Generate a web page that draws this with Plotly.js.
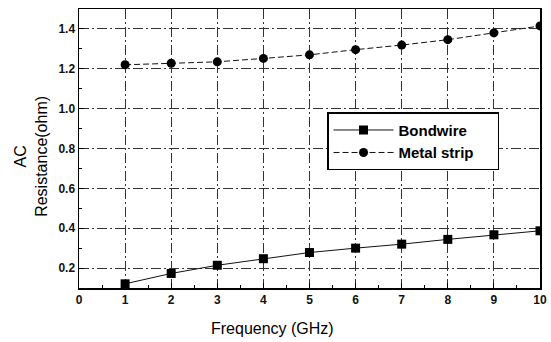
<!DOCTYPE html>
<html>
<head>
<meta charset="utf-8">
<script src="https://cdn.plot.ly/plotly-3.0.1.min.js"></script>
<style>html,body{margin:0;padding:0;background:#fff;}#chart{width:551px;height:342px;}</style>
</head>
<body>
<div id="chart"></div>
<script>
const freq = [1, 2, 3, 4, 5, 6, 7, 8, 9, 10];
const bondwire = [0.121, 0.173, 0.214, 0.247, 0.278, 0.300, 0.320, 0.344, 0.367, 0.387];
const metalStrip = [1.220, 1.228, 1.235, 1.252, 1.270, 1.296, 1.319, 1.346, 1.380, 1.415];
const xTicks = [0, 1, 2, 3, 4, 5, 6, 7, 8, 9, 10];
const yTicks = [0.2, 0.4, 0.6, 0.8, 1.0, 1.2, 1.4];

const font = 'Liberation Sans, Arial, sans-serif';
const traces = [
  {x: freq, y: bondwire, name: 'Bondwire&nbsp;&nbsp;&nbsp;&nbsp;&nbsp;&nbsp;', type: 'scatter', mode: 'lines+markers',
   line: {color: '#111', width: 1, dash: 'solid'},
   marker: {symbol: 'square', size: 9, color: '#000'}},
  {x: freq, y: metalStrip, name: 'Metal strip&nbsp;&nbsp;', type: 'scatter', mode: 'lines+markers',
   line: {color: '#111', width: 1, dash: '6px,3px'},
   marker: {symbol: 'circle', size: 9, color: '#000'}}
];
const gridStyle = {showgrid: true, gridcolor: '#333', gridwidth: 1, griddash: '10px,3px,2px,3px'};
const layout = {
  width: 551, height: 342,
  margin: {l: 79, r: 11, t: 9, b: 54},
  paper_bgcolor: '#fff', plot_bgcolor: '#fff',
  font: {family: font, color: '#111'},
  showlegend: true,
  legend: {x: 0.538, y: 0.63, xanchor: 'left', yanchor: 'top',
    bgcolor: '#fff', bordercolor: '#000', borderwidth: 1.5,
    font: {family: font, size: 15, color: '#000', weight: 'bold'}, itemwidth: 60,
    tracegroupgap: 0},
  xaxis: Object.assign({
    range: [0, 10], tickvals: xTicks, ticktext: xTicks.map(String),
    ticks: 'inside', ticklen: 5, tickcolor: '#000',
    minor: {dtick: 0.5, tick0: 0, ticks: 'inside', ticklen: 3, tickcolor: '#000', showgrid: false},
    showline: true, linecolor: '#000', linewidth: 1.5, mirror: true,
    zeroline: false,
    tickfont: {family: font, size: 12, color: '#111', weight: 'bold'}
  }, gridStyle),
  yaxis: Object.assign({
    range: [0.1, 1.5], tickvals: yTicks, ticktext: yTicks.map(v => v.toFixed(1)),
    ticks: 'inside', ticklen: 5, tickcolor: '#000',
    minor: {dtick: 0.1, tick0: 0.1, ticks: 'inside', ticklen: 3, tickcolor: '#000', showgrid: false},
    showline: true, linecolor: '#000', linewidth: 1.5, mirror: true,
    zeroline: false,
    tickfont: {family: font, size: 12, color: '#111', weight: 'bold'}
  }, gridStyle),
  annotations: [
    {text: 'Frequency (GHz)', xref: 'paper', yref: 'paper', x: (272 - 79) / 461, y: -0.145,
     xanchor: 'center', yanchor: 'middle', showarrow: false,
     font: {family: font, size: 16, color: '#000'}},
    {text: 'AC<br>Resistance(ohm)', xref: 'paper', yref: 'paper', x: 0, y: 0.47,
     xanchor: 'center', yanchor: 'middle', xshift: -48, textangle: -90, showarrow: false,
     font: {family: font, size: 16, color: '#000'}}
  ]
};
Plotly.newPlot('chart', traces, layout, {displayModeBar: false, staticPlot: true});
</script>
</body>
</html>
